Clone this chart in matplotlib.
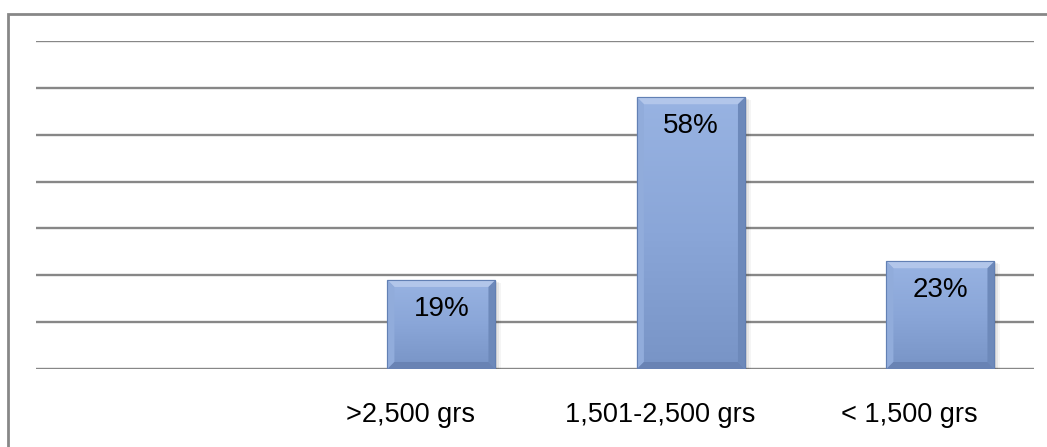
import numpy as np
import matplotlib.pyplot as plt
from matplotlib.patches import Polygon, Rectangle
from matplotlib.colors import LinearSegmentedColormap

# birth weight groups and their share (%)
categories = [">2,500 grs", "1,501-2,500 grs", "< 1,500 grs"]
values = [19, 58, 23]
labels = ["19%", "58%", "23%"]

plt.rcParams['font.family'] = ['Liberation Sans', 'DejaVu Sans']

W, H = 1047, 447
fig = plt.figure(figsize=(W / 100, H / 100), dpi=100)
ax = fig.add_axes([36 / W, 78 / H, (1034 - 36) / W, (406 - 78) / H])

ax.set_xlim(-0.5, 3.5)
ax.set_ylim(0, 70)
ax.set_yticks(np.arange(0, 71, 10))
ax.yaxis.grid(True, color='#878787', lw=1.7, zorder=0)
ax.set_axisbelow(True)
for s in ax.spines.values():
    s.set_visible(False)
ax.tick_params(left=False, labelleft=False, bottom=False, pad=20)

x = np.arange(1, len(categories) + 1)
ax.set_xticks(x)
ax.set_xticklabels(categories, fontsize=19.5)

# pixel size in data units, used for bevel and shadow widths
px_x = 4.0 / (1034 - 36)
px_y = 70.0 / (406 - 78)

bar_w = 0.433
offset = 0.125
cmap = LinearSegmentedColormap.from_list('face', ['#98b3e2', '#8aa6d8', '#7894c6'])
grad = np.linspace(0, 1, 100).reshape(-1, 1)

for xi, v, lab in zip(x, values, labels):
    x0 = xi + offset - bar_w / 2
    x1 = x0 + bar_w
    # soft shadow
    for k, a in [(6, 0.04), (4, 0.06), (2, 0.08)]:
        ax.add_patch(Rectangle((x0 + k * px_x, 0), bar_w, v - k * px_y * 0.5,
                               facecolor='black', alpha=a, lw=0, zorder=2))
    bar = Rectangle((x0, 0), bar_w, v, facecolor='#8aa6d8',
                    edgecolor='#6a87bb', lw=0.8, zorder=3)
    ax.add_patch(bar)
    im = ax.imshow(grad, cmap=cmap, aspect='auto', extent=(x0, x1, 0, v),
                   origin='upper', zorder=3.1)
    im.set_clip_path(bar)
    # bevelled edges
    bx, by = 7 * px_x, 7 * px_y
    ax.add_patch(Polygon([(x0, v), (x1, v), (x1 - bx, v - by), (x0 + bx, v - by)],
                         facecolor='#b2c6ea', lw=0, zorder=3.2))
    ax.add_patch(Polygon([(x0, 0), (x0, v), (x0 + bx, v - by), (x0 + bx, by)],
                         facecolor='#91acdb', lw=0, zorder=3.2))
    ax.add_patch(Polygon([(x1, 0), (x1, v), (x1 - bx, v - by), (x1 - bx, by)],
                         facecolor='#6d89ba', lw=0, zorder=3.2))
    ax.add_patch(Polygon([(x0, 0), (x1, 0), (x1 - bx, by), (x0 + bx, by)],
                         facecolor='#6983b4', lw=0, zorder=3.2))
    ax.add_patch(Rectangle((x0, 0), bar_w, v, fill=False,
                           edgecolor='#6280b4', lw=0.8, zorder=3.3))
    ax.text(xi + offset, v - 29 * px_y, lab, ha='center', va='center',
            fontsize=20, color='black', zorder=4)

# outer chart border
fig.add_artist(Rectangle((8 / W, -0.1), 1.2, 1 - 14 / H + 0.1,
                         transform=fig.transFigure, fill=False,
                         edgecolor='#878787', lw=2))

fig.savefig('out.png', dpi=100, facecolor='white')
